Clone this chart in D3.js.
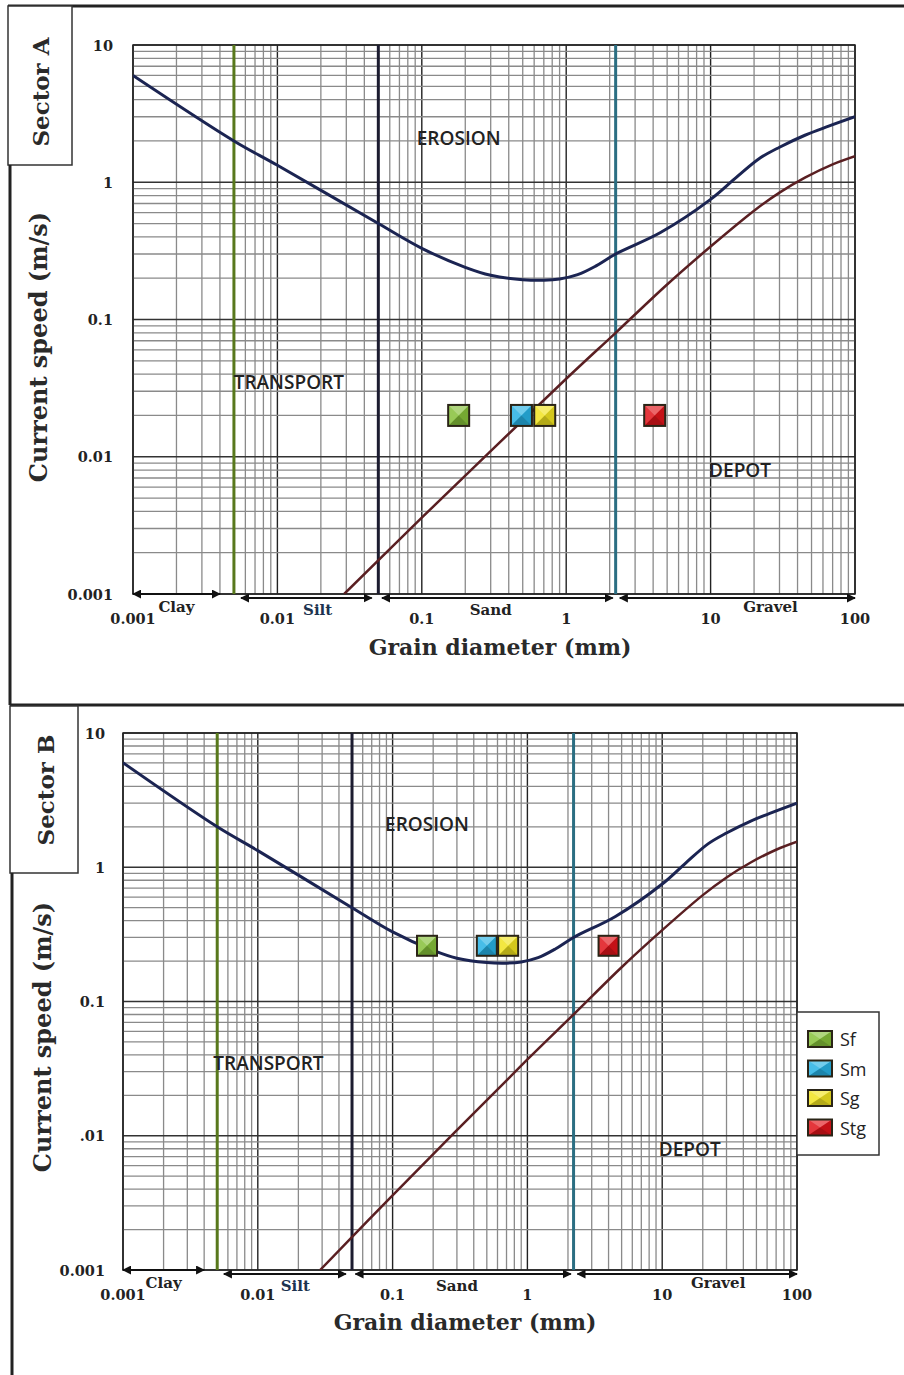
<!DOCTYPE html>
<html>
<head>
<meta charset="utf-8">
<script src="https://cdn.jsdelivr.net/npm/d3@7/dist/d3.min.js"></script>
<style>
  body { margin: 0; background: #fff; }
  svg { display: block; }
  .tick-lbl { font-family: "DejaVu Serif", serif; font-weight: bold; font-size: 14.5px; fill: #222; }
  .axis-title { font-family: "DejaVu Serif", serif; font-weight: bold; font-size: 22px; fill: #2a2a2a; }
  .y-title { font-size: 24px; }
  .sector-title { font-family: "DejaVu Serif", serif; font-weight: bold; font-size: 23px; fill: #2a2a2a; }
  .class-lbl { font-family: "DejaVu Serif", serif; font-weight: bold; font-size: 15px; }
  .zone-lbl { font-family: "Open Sans", sans-serif; font-weight: 600; font-size: 19px; fill: #222; }
  .legend-lbl { font-family: "Open Sans", sans-serif; font-size: 18px; fill: #222; }
</style>
</head>
<body>
<div id="chart"></div>
<script>
// axis ticks
var grainTicks = [0.001, 0.01, 0.1, 1, 10, 100];
var grainTickLabels = ["0.001", "0.01", "0.1", "1", "10", "100"];
var speedTicks = [0.001, 0.01, 0.1, 1, 10];
var speedTickLabelsA = ["0.001", "0.01", "0.1", "1", "10"];
var speedTickLabelsB = ["0.001", ".01", "0.1", "1", "10"];

// Hjulstrom curves (grain mm, speed m/s)
var erosionGrain = [0.001, 0.005, 0.01, 0.05, 0.1, 0.2, 0.3, 0.5, 0.7, 0.9, 1.2, 1.6, 2.2, 4.5, 10, 15, 22, 30, 45, 65, 100];
var erosionSpeed = [6.0, 2.0, 1.33, 0.5, 0.33, 0.24, 0.21, 0.195, 0.193, 0.197, 0.212, 0.245, 0.3, 0.43, 0.75, 1.08, 1.5, 1.8, 2.2, 2.55, 3.0];
var depotGrain = [0.029, 0.1, 1, 2.2, 5, 10, 20, 30, 45, 70, 100];
var depotSpeed = [0.001, 0.0036, 0.037, 0.08, 0.18, 0.34, 0.62, 0.84, 1.08, 1.35, 1.55];

// class boundaries
var boundaryGrain = [0.005, 0.05, 2.2];
var boundaryColor = ["#58781c", "#1c1c30", "#2b6e82"];

// grain classes under the axis
var classNames = ["Clay", "Silt", "Sand", "Gravel"];
var classFrom = [0.001, 0.0056, 0.053, 2.35];
var classTo = [0.004, 0.045, 2.1, 100];
var classLabelGrain = [0.002, 0.019, 0.3, 26];

// zone annotations
var zoneNames = ["EROSION", "TRANSPORT", "DEPOT"];
var zoneGrain = [0.18, 0.012, 16];
var zoneSpeed = [2.1, 0.035, 0.008];

// samples
var sampleNames = ["Sf", "Sm", "Sg", "Stg"];
var sampleColors = ["#86c03a", "#27b2e4", "#f1e320", "#e0141a"];
var sampleGrainA = [0.18, 0.49, 0.71, 4.1];
var sampleSpeedA = [0.02, 0.02, 0.02, 0.02];
var sampleGrainB = [0.18, 0.5, 0.72, 4.0];
var sampleSpeedB = [0.26, 0.26, 0.26, 0.26];

var width = 904, height = 1375;

var svg = d3.select("#chart").append("svg")
    .attr("width", width)
    .attr("height", height);

var defs = svg.append("defs");
defs.append("marker")
    .attr("id", "arrow")
    .attr("viewBox", "0 0 10 10")
    .attr("refX", 9).attr("refY", 5)
    .attr("markerWidth", 4.5).attr("markerHeight", 4.5)
    .attr("orient", "auto-start-reverse")
    .append("path")
    .attr("d", "M0,0 L10,5 L0,10 z")
    .attr("fill", "#111");

/* ------- FRAME -------*/
var frame = svg.append("g").attr("class", "frame");
frame.append("line").attr("x1", 8).attr("x2", width).attr("y1", 6).attr("y2", 6)
    .attr("stroke", "#222").attr("stroke-width", 3);
frame.append("rect").attr("x", 8).attr("y", 6).attr("width", 64).attr("height", 159)
    .attr("fill", "#fff").attr("stroke", "#333").attr("stroke-width", 1.5);
frame.append("line").attr("x1", 10).attr("x2", 10).attr("y1", 165).attr("y2", 705)
    .attr("stroke", "#222").attr("stroke-width", 3);
frame.append("line").attr("x1", 10).attr("x2", width).attr("y1", 705).attr("y2", 705)
    .attr("stroke", "#222").attr("stroke-width", 3);
frame.append("rect").attr("x", 10).attr("y", 706).attr("width", 68).attr("height", 167)
    .attr("fill", "#fff").attr("stroke", "#333").attr("stroke-width", 1.5);
frame.append("line").attr("x1", 12).attr("x2", 12).attr("y1", 873).attr("y2", height)
    .attr("stroke", "#222").attr("stroke-width", 3);

frame.append("text").attr("class", "sector-title")
    .attr("transform", "translate(40,92) rotate(-90)")
    .attr("text-anchor", "middle").attr("dominant-baseline", "central")
    .text("Sector A");
frame.append("text").attr("class", "sector-title")
    .attr("transform", "translate(45,790) rotate(-90)")
    .attr("text-anchor", "middle").attr("dominant-baseline", "central")
    .text("Sector B");

function drawMarker(g, cx, cy, w, h, color) {
    var m = g.append("g").attr("transform", "translate(" + cx + "," + cy + ")");
    var hw = w / 2, hh = h / 2;
    m.append("rect").attr("x", -hw).attr("y", -hh).attr("width", w).attr("height", h)
        .attr("fill", color);
    // bevel facets
    var facets = [
        ["M" + (-hw) + "," + (-hh) + "L" + hw + "," + (-hh) + "L0,0z", "#fff", 0.35],
        ["M" + (-hw) + "," + (-hh) + "L" + (-hw) + "," + hh + "L0,0z", "#fff", 0.15],
        ["M" + (-hw) + "," + hh + "L" + hw + "," + hh + "L0,0z", "#000", 0.25],
        ["M" + hw + "," + (-hh) + "L" + hw + "," + hh + "L0,0z", "#000", 0.12]
    ];
    facets.forEach(function(f) {
        m.append("path").attr("d", f[0]).attr("fill", f[1]).attr("opacity", f[2]);
    });
    m.append("rect").attr("x", -hw).attr("y", -hh).attr("width", w).attr("height", h)
        .attr("fill", "none").attr("stroke", "#2a2416").attr("stroke-width", 2);
}

function drawPanel(p) {
    var x = d3.scaleLog().domain([0.001, 100]).range([p.left, p.right]);
    var y = d3.scaleLog().domain([0.001, 10]).range([p.bottom, p.top]);
    var g = svg.append("g");

    var isMajor = function(v) { return Math.abs(Math.log10(v) - Math.round(Math.log10(v))) < 1e-6; };

    /* ------- GRID -------*/
    var grid = g.append("g").attr("class", "grid");
    grid.selectAll("line.vx").data(x.ticks()).enter().append("line")
        .attr("x1", function(d) { return x(d); }).attr("x2", function(d) { return x(d); })
        .attr("y1", p.top).attr("y2", p.bottom)
        .attr("stroke", function(d) { return isMajor(d) ? "#222" : "#8a8a8a"; })
        .attr("stroke-width", function(d) { return isMajor(d) ? 1.4 : 1.3; });
    grid.selectAll("line.hy").data(y.ticks()).enter().append("line")
        .attr("y1", function(d) { return y(d); }).attr("y2", function(d) { return y(d); })
        .attr("x1", p.left).attr("x2", p.right)
        .attr("stroke", function(d) { return isMajor(d) ? "#333" : "#8a8a8a"; })
        .attr("stroke-width", function(d) { return isMajor(d) ? 1.4 : 1.3; });
    grid.append("rect").attr("x", p.left).attr("y", p.top)
        .attr("width", p.right - p.left).attr("height", p.bottom - p.top)
        .attr("fill", "none").attr("stroke", "#222").attr("stroke-width", 1.5);

    /* ------- BOUNDARIES -------*/
    g.selectAll("line.bnd").data(boundaryGrain).enter().append("line")
        .attr("x1", function(d) { return x(d); }).attr("x2", function(d) { return x(d); })
        .attr("y1", p.top).attr("y2", p.bottom)
        .attr("stroke", function(d, i) { return boundaryColor[i]; })
        .attr("stroke-width", 3);

    /* ------- CURVES -------*/
    var clipId = "clip" + p.id;
    defs.append("clipPath").attr("id", clipId).append("rect")
        .attr("x", p.left).attr("y", p.top)
        .attr("width", p.right - p.left).attr("height", p.bottom - p.top);
    var line = d3.line()
        .x(function(d) { return x(d[0]); })
        .y(function(d) { return y(d[1]); })
        .curve(d3.curveCatmullRom.alpha(0.5));
    var curves = g.append("g").attr("clip-path", "url(#" + clipId + ")");
    curves.append("path")
        .attr("d", line(d3.zip(erosionGrain, erosionSpeed)))
        .attr("fill", "none").attr("stroke", "#1b2452").attr("stroke-width", 3);
    curves.append("path")
        .attr("d", line(d3.zip(depotGrain, depotSpeed)))
        .attr("fill", "none").attr("stroke", "#5a1f22").attr("stroke-width", 2.5);

    /* ------- TICK LABELS -------*/
    g.selectAll("text.ylbl").data(speedTicks).enter().append("text")
        .attr("class", "tick-lbl")
        .attr("x", p.left - p.yLblGap).attr("y", function(d) { return y(d); })
        .attr("text-anchor", "end").attr("dominant-baseline", "central")
        .text(function(d, i) { return p.speedLabels[i]; });
    g.selectAll("text.xlbl").data(grainTicks).enter().append("text")
        .attr("class", "tick-lbl")
        .attr("x", function(d) { return x(d); }).attr("y", p.bottom + 24)
        .attr("text-anchor", "middle").attr("dominant-baseline", "central")
        .text(function(d, i) { return grainTickLabels[i]; });

    /* ------- CLASS ARROWS -------*/
    g.selectAll("line.cls").data(classNames).enter().append("line")
        .attr("x1", function(d, i) { return x(classFrom[i]); })
        .attr("x2", function(d, i) { return x(classTo[i]); })
        .attr("y1", function(d, i) { return p.bottom + (i === 0 ? 0 : 4); })
        .attr("y2", function(d, i) { return p.bottom + (i === 0 ? 0 : 4); })
        .attr("stroke", "#111").attr("stroke-width", 2)
        .attr("marker-start", "url(#arrow)").attr("marker-end", "url(#arrow)");
    g.selectAll("text.cls").data(classNames).enter().append("text")
        .attr("class", "class-lbl")
        .attr("x", function(d, i) { return x(classLabelGrain[i]); })
        .attr("y", function(d, i) { return p.bottom + (i === 1 || i === 2 ? 16 : 13); })
        .attr("text-anchor", "middle").attr("dominant-baseline", "central")
        .attr("fill", function(d, i) { return i === 1 ? "#1d3350" : "#222"; })
        .text(function(d) { return d; });

    /* ------- AXIS TITLES -------*/
    g.append("text").attr("class", "axis-title")
        .attr("x", p.xTitle[0]).attr("y", p.xTitle[1])
        .attr("text-anchor", "middle").attr("dominant-baseline", "central")
        .text("Grain diameter (mm)");
    g.append("text").attr("class", "axis-title y-title")
        .attr("transform", "translate(" + p.yTitle[0] + "," + p.yTitle[1] + ") rotate(-90)")
        .attr("text-anchor", "middle").attr("dominant-baseline", "central")
        .text("Current speed (m/s)");

    /* ------- ZONES -------*/
    g.selectAll("text.zone").data(zoneNames).enter().append("text")
        .attr("class", "zone-lbl")
        .attr("x", function(d, i) { return x(zoneGrain[i]); })
        .attr("y", function(d, i) { return y(zoneSpeed[i]); })
        .attr("text-anchor", "middle").attr("dominant-baseline", "central")
        .text(function(d) { return d; });

    /* ------- SAMPLES -------*/
    var marks = g.append("g");
    sampleNames.forEach(function(n, i) {
        drawMarker(marks, x(p.grain[i]), y(p.speed[i]), p.mark, p.mark, sampleColors[i]);
    });
}

drawPanel({
    id: "A", left: 133, right: 855, top: 45, bottom: 594,
    speedLabels: speedTickLabelsA, yLblGap: 20,
    grain: sampleGrainA, speed: sampleSpeedA, mark: 21,
    xTitle: [500, 647], yTitle: [38, 347]
});
drawPanel({
    id: "B", left: 123, right: 797, top: 733, bottom: 1270,
    speedLabels: speedTickLabelsB, yLblGap: 18,
    grain: sampleGrainB, speed: sampleSpeedB, mark: 20,
    xTitle: [465, 1322], yTitle: [42, 1037]
});

/* ------- LEGEND -------*/
var legend = svg.append("g").attr("class", "legend");
legend.append("rect").attr("x", 797).attr("y", 1012).attr("width", 82).attr("height", 143)
    .attr("fill", "#fff").attr("stroke", "#333").attr("stroke-width", 1.5);
sampleNames.forEach(function(n, i) {
    var cy = 1039 + i * 29.5;
    drawMarker(legend, 820, cy, 24, 16, sampleColors[i]);
    legend.append("text").attr("class", "legend-lbl")
        .attr("x", 840).attr("y", cy)
        .attr("dominant-baseline", "central")
        .text(n);
});
</script>
</body>
</html>
